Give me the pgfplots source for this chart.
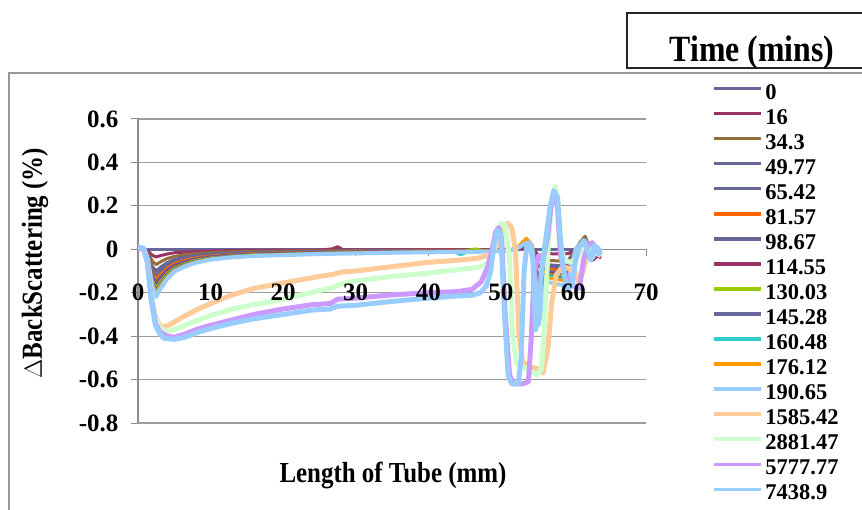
\documentclass[border=0pt]{standalone}
\usepackage{pgfplots}
\pgfplotsset{compat=1.18}
\usepackage{fontspec}
\setmainfont{Liberation Serif}
\newfontfamily\narrowserif{Liberation Serif}[FakeStretch=0.86]

\definecolor{slate}{RGB}{102,102,153}
\definecolor{plum}{RGB}{153,51,102}
\definecolor{umber}{RGB}{150,110,55}
\definecolor{flame}{RGB}{255,102,0}
\definecolor{lime}{RGB}{153,204,0}
\definecolor{aqua}{RGB}{51,204,204}
\definecolor{amber}{RGB}{255,153,0}
\definecolor{sky}{RGB}{153,204,255}
\definecolor{peach}{RGB}{255,204,153}
\definecolor{mint}{RGB}{204,255,204}
\definecolor{lilac}{RGB}{204,153,255}
\definecolor{rule}{RGB}{140,140,140}

\pgfplotsset{
  tubeframe/.style={
    at={(138pt,-423pt)}, anchor=south west,
    scale only axis, width=508pt, height=304pt,
    xmin=0, xmax=70, ymin=-0.8, ymax=0.6,
    axis x line=middle, axis y line=left,
    x axis line style={-, draw=rule, line width=1.2pt},
    y axis line style={-, draw=rule, line width=1.2pt},
    every inner x axis line/.append style={-},
    every outer y axis line/.append style={-},
    xtick={0,10,20,30,40,50,60,70},
    ytick={-0.8,-0.6,-0.4,-0.2,0,0.2,0.4,0.6},
    hide obscured x ticks=false, hide obscured y ticks=false,
    tick align=outside, major tick length=7pt,
    tick style={rule, line width=1pt},
  },
}

\begin{document}
\begin{tikzpicture}
% chart frame and legend heading
\draw[rule!90, line width=1.6pt] (9pt,-510pt) -- (9pt,-73pt) -- (862pt,-73pt);
\draw[black!85, line width=1.3pt] (875pt,-13pt) -- (627pt,-13pt) -- (627pt,-68pt) -- (875pt,-68pt);
\node[anchor=base, font=\fontsize{37}{37}\narrowserif\bfseries] at (752pt,-62pt) {Time (mins)};

\begin{axis}[
  tubeframe,
  xticklabels={},
  yticklabels={-0.8,-0.6,-0.4,-0.2,0,0.2,0.4,0.6},
  ymajorgrids, grid style={rule!85, line width=1.2pt},
  yticklabel style={font=\fontsize{25}{25}\selectfont\bfseries, anchor=east, xshift=-9pt},
  xlabel={Length of Tube (mm)},
  ylabel={$\Delta$BackScattering (\%)},
  every axis x label/.style={at={(rel axis cs:0.502,-0.197)}, anchor=base,
    font=\fontsize{29}{29}\narrowserif\bfseries},
  every axis y label/.style={at={(rel axis cs:-0.189,0.526)}, rotate=90, anchor=base,
    font=\fontsize{29}{29}\narrowserif\bfseries},
  legend entries={0,16,34.3,49.77,65.42,81.57,98.67,114.55,130.03,145.28,160.48,176.12,190.65,1585.42,2881.47,5777.77,7438.9},
  legend cell align=left,
  legend image code/.code={\draw[#1, line width=3.5pt] (0pt,3pt) -- (47pt,3pt);},
  legend style={at={(rel axis cs:1.1299,1.1151)}, anchor=north west,
    draw=none, fill=none, inner sep=0pt, outer sep=0pt,
    /tikz/row sep=10.05pt, /tikz/column sep=3pt,
    nodes={inner sep=0pt, text height=15pt, text depth=0pt,
      font=\fontsize{22.5}{22.5}\selectfont\bfseries}},
  every axis plot/.append style={line width=3pt, line join=round, mark=none},
]

% 0
\addplot[slate] coordinates {(0,0) (20,0) (40,0) (60,0) (63.8,0)};
% 16
\addplot[plum] coordinates {(0,0) (0.8,0) (1.5,-0.012) (2,-0.028) (2.5,-0.035) (3,-0.030) (4,-0.022) (5,-0.016) (6.5,-0.013) (8,-0.010) (10,-0.008) (13,-0.006) (16,-0.005) (20,-0.004) (25,-0.0035) (26.8,0.002) (27.5,0.012) (28.3,-0.003) (30,-0.003) (35,-0.002) (40,-0.002) (45,-0.002) (48,-0.002) (50,-0.001) (51.5,-0.001) (52.5,0.003) (53.5,0.01) (54.3,0.004) (54.8,-0.012) (55.2,-0.03) (55.7,-0.025) (56.3,-0.02) (57.5,-0.021) (58.5,-0.022) (59.3,-0.02) (59.8,-0.01) (60.3,0) (61,0.012) (61.6,0.02) (62.2,0.004) (62.7,-0.04) (63.3,-0.02) (63.8,-0.03)};
% 34.3
\addplot[umber] coordinates {(0,0) (0.8,0) (1.5,-0.025) (2,-0.056) (2.5,-0.07) (3,-0.06) (4,-0.043) (5,-0.033) (6.5,-0.025) (8,-0.02) (10,-0.015) (13,-0.012) (16,-0.01) (20,-0.008) (25,-0.007) (30,-0.006) (35,-0.005) (40,-0.004) (45,-0.004) (48,-0.0035) (50,-0.003) (51.5,-0.001) (52.5,0.012) (53.5,0.04) (54.3,0.016) (54.8,-0.032) (55.2,-0.08) (55.7,-0.065) (56.3,-0.05) (57.5,-0.053) (58.5,-0.055) (59.3,-0.05) (59.8,-0.025) (60.3,0) (61,0.036) (61.6,0.06) (62.2,0.012) (62.7,-0.03) (63.3,-0.01) (63.8,-0.02)};
% 49.77
\addplot[slate] coordinates {(0,0) (0.8,0) (1.5,-0.035) (2,-0.08) (2.5,-0.1) (3,-0.085) (4,-0.062) (5,-0.047) (6.5,-0.036) (8,-0.028) (10,-0.022) (13,-0.017) (16,-0.014) (20,-0.012) (25,-0.01) (30,-0.0085) (35,-0.007) (40,-0.006) (45,-0.0055) (48,-0.005) (50,-0.004) (51.5,-0.002) (52.5,0.009) (53.5,0.03) (54.3,0.012) (54.8,-0.06) (55.2,-0.15) (55.7,-0.11) (56.3,-0.07) (57.5,-0.074) (58.5,-0.077) (59.3,-0.07) (59.8,-0.035) (60.3,0) (61,0.024) (61.6,0.04) (62.2,0.008) (62.7,-0.03) (63.3,-0.01) (63.8,-0.02)};
% 65.42
\addplot[slate] coordinates {(0,0) (0.8,0) (1.5,-0.042) (2,-0.096) (2.5,-0.12) (3,-0.102) (4,-0.074) (5,-0.056) (6.5,-0.043) (8,-0.034) (10,-0.026) (13,-0.02) (16,-0.017) (20,-0.014) (25,-0.012) (30,-0.01) (35,-0.008) (40,-0.007) (45,-0.0066) (48,-0.006) (50,-0.005) (51.5,-0.002) (52.5,0.01) (53.5,0.035) (54.3,0.014) (54.8,-0.08) (55.2,-0.2) (55.7,-0.14) (56.3,-0.08) (57.5,-0.084) (58.5,-0.088) (59.3,-0.08) (59.8,-0.04) (60.3,0) (61,0.027) (61.6,0.045) (62.2,0.009) (62.7,-0.03) (63.3,-0.005) (63.8,-0.02)};
% 81.57
\addplot[flame] coordinates {(0,0) (0.8,0) (1.5,-0.049) (2,-0.112) (2.5,-0.14) (3,-0.119) (4,-0.087) (5,-0.066) (6.5,-0.05) (8,-0.039) (10,-0.031) (13,-0.024) (16,-0.02) (20,-0.017) (25,-0.014) (30,-0.012) (35,-0.01) (40,-0.008) (45,-0.0077) (48,-0.007) (50,-0.0056) (51.5,-0.003) (52.5,0.015) (53.5,0.05) (54.3,0.02) (54.8,-0.088) (55.2,-0.22) (55.7,-0.155) (56.3,-0.09) (57.5,-0.095) (58.5,-0.099) (59.3,-0.09) (59.8,-0.045) (60.3,0) (61,0.018) (61.6,0.03) (62.2,0.006) (62.7,-0.025) (63.3,-0.01) (63.8,-0.015)};
% 98.67
\addplot[slate] coordinates {(0,0) (0.8,0) (1.5,-0.054) (2,-0.124) (2.5,-0.155) (3,-0.132) (4,-0.096) (5,-0.073) (6.5,-0.056) (8,-0.043) (10,-0.034) (13,-0.026) (16,-0.022) (20,-0.019) (25,-0.016) (30,-0.013) (35,-0.011) (40,-0.009) (45,-0.0085) (48,-0.008) (50,-0.006) (51.5,-0.003) (52.5,0.012) (53.5,0.04) (54.3,0.016) (54.8,-0.1) (55.2,-0.25) (55.7,-0.175) (56.3,-0.1) (57.5,-0.105) (58.5,-0.11) (59.3,-0.1) (59.8,-0.05) (60.3,0) (61,0.024) (61.6,0.04) (62.2,0.008) (62.7,-0.03) (63.3,-0.01) (63.8,-0.02)};
% 114.55
\addplot[plum] coordinates {(0,0) (0.8,0) (1.5,-0.06) (2,-0.136) (2.5,-0.17) (3,-0.145) (4,-0.105) (5,-0.08) (6.5,-0.061) (8,-0.048) (10,-0.037) (13,-0.029) (16,-0.024) (20,-0.02) (25,-0.017) (30,-0.014) (35,-0.012) (40,-0.01) (45,-0.0094) (48,-0.0085) (50,-0.007) (51.5,-0.003) (52.5,0.009) (53.5,0.03) (54.3,0.012) (54.8,-0.104) (55.2,-0.26) (55.7,-0.185) (56.3,-0.11) (57.5,-0.116) (58.5,-0.121) (59.3,-0.11) (59.8,-0.055) (60.3,0) (61,0.012) (61.6,0.02) (62.2,0.004) (62.7,-0.05) (63.3,-0.03) (63.8,-0.04)};
% 130.03
\addplot[lime] coordinates {(0,0) (0.8,0) (1.5,-0.063) (2,-0.144) (2.5,-0.18) (3,-0.153) (4,-0.112) (5,-0.085) (6.5,-0.065) (8,-0.05) (10,-0.04) (13,-0.031) (16,-0.025) (20,-0.022) (25,-0.018) (30,-0.015) (35,-0.013) (40,-0.011) (45,-0.01) (46.5,0.002) (47.5,-0.008) (50,-0.007) (51.5,-0.004) (52.5,0.014) (53.5,0.045) (54.3,0.018) (54.8,-0.108) (55.2,-0.27) (55.7,-0.193) (56.3,-0.115) (57.5,-0.121) (58.5,-0.127) (59.3,-0.115) (59.8,-0.058) (60.3,0) (61,0.018) (61.6,0.03) (62.2,0.006) (62.7,-0.025) (63.3,-0.01) (63.8,-0.015)};
% 145.28
\addplot[slate] coordinates {(0,0) (0.8,0) (1.5,-0.067) (2,-0.152) (2.5,-0.19) (3,-0.162) (4,-0.118) (5,-0.089) (6.5,-0.068) (8,-0.053) (10,-0.042) (13,-0.032) (16,-0.027) (20,-0.023) (25,-0.019) (30,-0.016) (35,-0.013) (40,-0.011) (45,-0.0105) (48,-0.0095) (50,-0.0076) (51.5,-0.004) (52.5,0.012) (53.5,0.04) (54.3,0.016) (54.8,-0.112) (55.2,-0.28) (55.7,-0.2) (56.3,-0.12) (57.5,-0.126) (58.5,-0.132) (59.3,-0.12) (59.8,-0.06) (60.3,0) (61,0.021) (61.6,0.035) (62.2,0.007) (62.7,-0.03) (63.3,-0.01) (63.8,-0.02)};
% 160.48
\addplot[aqua] coordinates {(0,0) (0.8,0) (1.5,-0.07) (2,-0.16) (2.5,-0.2) (3,-0.17) (4,-0.124) (5,-0.094) (6.5,-0.072) (8,-0.056) (10,-0.044) (13,-0.034) (16,-0.028) (20,-0.024) (25,-0.02) (30,-0.017) (35,-0.014) (40,-0.012) (43.5,-0.012) (44.5,-0.025) (45.5,-0.011) (48,-0.01) (50,-0.008) (51.5,-0.004) (52.5,0.01) (53.5,0.035) (54.3,0.014) (54.8,-0.116) (55.2,-0.29) (55.7,-0.208) (56.3,-0.125) (57.5,-0.131) (58.5,-0.138) (59.3,-0.125) (59.8,-0.063) (60.3,0) (61,0.018) (61.6,0.03) (62.2,0.006) (62.7,-0.025) (63.3,-0.01) (63.8,-0.015)};
% 176.12
\addplot[amber] coordinates {(0,0) (0.8,0) (1.5,-0.072) (2,-0.164) (2.5,-0.205) (3,-0.174) (4,-0.127) (5,-0.096) (6.5,-0.074) (8,-0.057) (10,-0.045) (13,-0.035) (16,-0.029) (20,-0.025) (25,-0.021) (30,-0.017) (35,-0.014) (40,-0.012) (45,-0.011) (48,-0.01) (50,-0.008) (51.5,-0.004) (52.5,0.015) (53.5,0.05) (54.3,0.02) (54.8,-0.12) (55.2,-0.3) (55.7,-0.215) (56.3,-0.13) (57.5,-0.137) (58.5,-0.143) (59.3,-0.13) (59.8,-0.065) (60.3,0) (61,0.018) (61.6,0.03) (62.2,0.006) (62.7,-0.02) (63.3,-0.01) (63.8,-0.015)};
% 190.65
\addplot[sky, line width=4pt] coordinates {(0,0.01) (0.8,0.005) (1.5,-0.077) (2,-0.176) (2.5,-0.22) (3,-0.187) (4,-0.137) (5,-0.103) (6.5,-0.079) (8,-0.062) (10,-0.048) (13,-0.037) (16,-0.031) (20,-0.027) (25,-0.022) (30,-0.019) (35,-0.016) (40,-0.014) (45,-0.012) (48,-0.011) (50,-0.009) (51.5,-0.004) (52.5,0.009) (53.5,0.03) (54.3,0.012) (54.8,-0.14) (55.2,-0.35) (55.7,-0.25) (56.3,-0.15) (57.5,-0.158) (58.5,-0.165) (59.3,-0.15) (59.8,-0.075) (60.3,0) (61,0.024) (61.6,0.04) (62.2,0.008) (62.7,-0.04) (63.3,0.01) (63.8,-0.01)};
% 1585.42
\addplot[peach, line width=5pt] coordinates {(0,0.005) (0.8,0) (1.3,-0.05) (1.8,-0.2) (2.4,-0.31) (3,-0.35) (3.5,-0.36) (4.5,-0.345) (6,-0.315) (8,-0.28) (10,-0.25) (13,-0.21) (16,-0.18) (20,-0.155) (25,-0.125) (27,-0.115) (28,-0.105) (30,-0.1) (35,-0.08) (40,-0.06) (45,-0.048) (47,-0.04) (48.5,-0.025) (49.5,0.02) (50.3,0.1) (50.9,0.12) (51.5,0.1) (52,0) (52.5,-0.4) (53,-0.52) (54,-0.54) (55,-0.55) (55.8,-0.57) (56.5,-0.45) (57,-0.25) (57.6,-0.12) (58.5,-0.08) (59.5,-0.09) (60.2,-0.1) (60.8,-0.16) (61.3,-0.1) (62,-0.02) (62.7,0) (63.3,-0.02) (63.8,-0.03)};
% 2881.47
\addplot[mint, line width=5pt] coordinates {(0,0.005) (0.8,0) (1.3,-0.05) (1.8,-0.2) (2.4,-0.32) (3,-0.36) (4,-0.38) (5,-0.37) (6.5,-0.35) (8,-0.33) (10,-0.305) (13,-0.275) (16,-0.255) (20,-0.23) (25,-0.19) (27,-0.175) (28,-0.16) (30,-0.145) (35,-0.125) (40,-0.11) (45,-0.09) (47,-0.083) (48,-0.07) (48.8,-0.03) (49.5,0.08) (50,0.12) (50.6,0.11) (51.2,-0.05) (51.6,-0.4) (52.2,-0.53) (53,-0.54) (54,-0.56) (55,-0.58) (55.6,-0.55) (56,-0.35) (56.5,0) (57,0.22) (57.5,0.29) (57.9,0.22) (58.3,0) (58.8,-0.05) (59.5,-0.06) (60.2,-0.05) (61,-0.02) (61.8,0.02) (62.5,0) (63.2,-0.02) (63.8,-0.02)};
% 5777.77
\addplot[lilac, line width=5pt] coordinates {(0,0.005) (0.8,0) (1.3,-0.06) (1.8,-0.22) (2.4,-0.34) (3,-0.38) (4,-0.4) (5,-0.405) (6.5,-0.39) (8,-0.37) (10,-0.35) (13,-0.325) (16,-0.3) (20,-0.275) (24,-0.255) (26.5,-0.25) (27.5,-0.23) (30,-0.225) (35,-0.21) (40,-0.2) (44,-0.195) (46,-0.185) (47.3,-0.15) (48.2,-0.08) (48.8,0) (49.3,0.08) (49.7,0.1) (50.1,0.05) (50.6,-0.3) (51.2,-0.58) (51.8,-0.62) (53,-0.62) (53.8,-0.61) (54.2,-0.4) (54.6,-0.1) (55.2,-0.03) (55.8,-0.05) (56.4,0.05) (57,0.22) (57.4,0.25) (57.8,0.2) (58.2,-0.02) (58.8,-0.12) (59.5,-0.15) (60.2,-0.17) (60.8,-0.18) (61.4,-0.05) (62,0.02) (62.6,0.03) (63.2,-0.01) (63.8,-0.02)};
% 7438.9
\addplot[sky, line width=5pt] coordinates {(0,0.01) (0.8,0.005) (1.3,-0.06) (1.8,-0.23) (2.4,-0.35) (3,-0.39) (3.6,-0.41) (5,-0.415) (6.5,-0.405) (8,-0.385) (10,-0.365) (13,-0.34) (16,-0.32) (20,-0.3) (24,-0.28) (26.5,-0.275) (27.5,-0.262) (30,-0.258) (35,-0.24) (40,-0.225) (44,-0.215) (46,-0.212) (47.2,-0.2) (48,-0.17) (48.6,-0.1) (49.1,0.03) (49.6,0.09) (50,0.06) (50.5,-0.3) (51,-0.58) (51.5,-0.62) (52.4,-0.62) (52.8,-0.5) (53.2,-0.1) (53.6,0.02) (54,0.03) (54.4,-0.05) (54.8,-0.37) (55.2,-0.3) (55.6,-0.1) (56.2,0.05) (56.8,0.2) (57.3,0.27) (57.8,0.24) (58.2,0.05) (58.7,-0.12) (59.3,-0.18) (59.8,-0.17) (60.3,-0.05) (60.8,0.01) (61.4,0.04) (62,-0.01) (62.4,-0.05) (62.9,0.02) (63.4,-0.02) (63.8,-0.01)};
\end{axis}

% x tick labels, set over the curves
\begin{axis}[
  tubeframe,
  x axis line style={draw=none}, y axis line style={draw=none},
  tick style={draw=none},
  yticklabels={},
  xticklabels={0,10,20,30,40,50,60,70},
  xticklabel style={font=\fontsize{25}{25}\selectfont\bfseries, anchor=center, yshift=-36pt},
]
\end{axis}
\pgfresetboundingbox
\useasboundingbox (0pt,0pt) rectangle (862pt,-510pt);
\end{tikzpicture}
\end{document}
